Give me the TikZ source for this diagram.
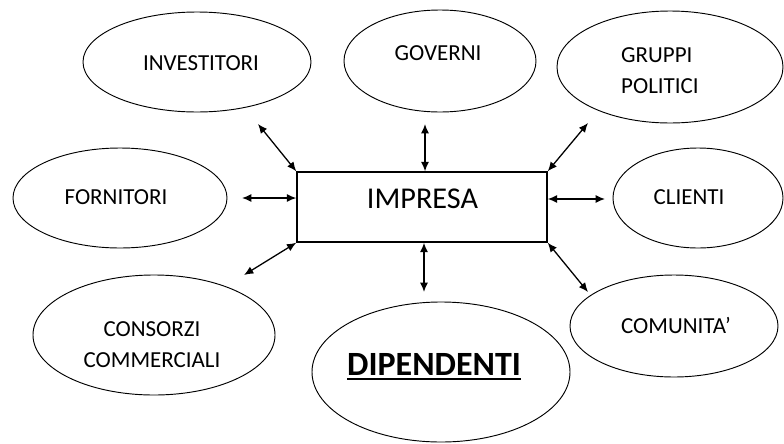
\documentclass[tikz,border=0pt]{standalone}
\usepackage{fontspec}
\setmainfont{Carlito}
\usetikzlibrary{shapes.geometric,arrows.meta}

\newcommand{\thickul}[1]{\vtop{\hbox{#1}\kern2.5pt\hrule height1.7pt}}

\tikzset{
  ent/.style={draw, ellipse, line width=0.8pt, inner sep=0},
  lab/.style={inner sep=0, font=\fontsize{19.6}{27}\selectfont},
  link/.style={{Latex[length=2.8mm,width=2.4mm]}-{Latex[length=2.8mm,width=2.4mm]}, line width=1.1pt}
}

\begin{document}
\begin{tikzpicture}[x=0.03cm, y=-0.03cm]
    \useasboundingbox (0, 0) rectangle (784, 443);
    % centre
    \node[draw, line width=1.2pt, inner sep=0, minimum width=7.5cm, minimum height=2.1cm] (imp) at (422, 207) {};
    \node[lab, font=\fontsize{25.8}{30}\selectfont] (imp-t) at (422.5, 199) {IMPRESA};
    % stakeholders
    \node[ent, minimum width=6.84cm, minimum height=3cm] (inv) at (197, 62) {};
    \node[lab] (inv-t) at (201, 63) {INVESTITORI};
    \node[ent, minimum width=5.76cm, minimum height=3.06cm] (gov) at (440, 61) {};
    \node[lab] (gov-t) at (438, 53) {GOVERNI};
    \node[ent, minimum width=6.78cm, minimum height=3.36cm] (grp) at (670, 67) {};
    \node[lab, align=left, anchor=west] (grp-t) at (621, 70.5) {GRUPPI\\POLITICI};
    \node[ent, minimum width=6.42cm, minimum height=3cm] (forn) at (120, 198) {};
    \node[lab] (forn-t) at (116, 197) {FORNITORI};
    \node[ent, minimum width=5.1cm, minimum height=3cm] (cli) at (698, 198) {};
    \node[lab] (cli-t) at (689, 197) {CLIENTI};
    \node[ent, minimum width=7.26cm, minimum height=3.6cm] (cons) at (154, 335) {};
    \node[lab, align=center] (cons-t) at (152, 344.5) {CONSORZI\\COMMERCIALI};
    \node[ent, minimum width=7.74cm, minimum height=4.2cm] (dip) at (441, 372) {};
    \node[lab, font=\bfseries\fontsize{29}{34}\selectfont, anchor=base] (dip-t) at (434, 375) {\thickul{DIPENDENTI}};
    \node[ent, minimum width=6.24cm, minimum height=3.06cm] (com) at (674, 326) {};
    \node[lab] (com-t) at (676, 325) {COMUNITA’};
    % free ends of the arrows
    \coordinate (a1) at (258, 124);
    \coordinate (a2) at (425, 124);
    \coordinate (a3) at (588, 123);
    \coordinate (a4) at (242, 198);
    \coordinate (a5) at (605, 199);
    \coordinate (a6) at (244, 275);
    \coordinate (a7) at (424, 292);
    \coordinate (a8) at (588, 292);
    \draw[link] (a1) -- (imp.north west);
    \draw[link] (a2) -- (a2 |- imp.north);
    \draw[link] (a3) -- (imp.north east);
    \draw[link] (a4) -- (a4 -| imp.west);
    \draw[link] (a5) -- (a5 -| imp.east);
    \draw[link] (a6) -- (imp.south west);
    \draw[link] (a7) -- (a7 |- imp.south);
    \draw[link] (a8) -- (imp.south east);
\end{tikzpicture}
\end{document}
